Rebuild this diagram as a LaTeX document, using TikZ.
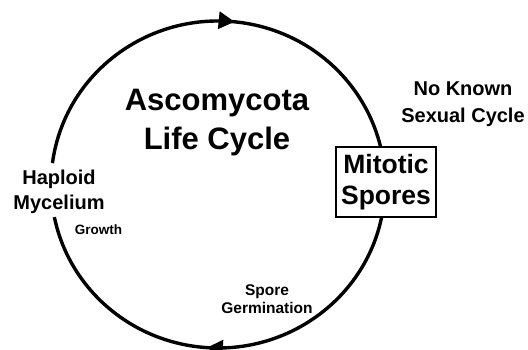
\documentclass[tikz,border=0pt]{standalone}
\usepackage{fontspec}
\setmainfont{Liberation Sans}
\usetikzlibrary{arrows.meta,decorations.markings,calc}
\begin{document}
\begin{tikzpicture}[x=1pt,y=1pt,
  lbl/.style={font=\bfseries, align=center, inner sep=0pt},
  cyc/.style={line width=3.4pt, postaction={decorate}, decoration={markings,
     mark=at position 0.259 with {\arrow{Triangle[length=16pt,width=17pt]}},
     mark=at position 0.781 with {\arrow{Triangle[length=16pt,width=17pt]}}}}]
\useasboundingbox (0,0) rectangle (528,350);
\coordinate (c) at (218,165.5);
\draw[cyc] ($(c)+(172.5:167 and 163.5)$) arc[start angle=172.5, end angle=-168.5, x radius=167, y radius=163.5];
\node[lbl, font=\fontsize{31}{39}\selectfont\bfseries] (title) at (217,227.5) {Ascomycota\\Life Cycle};
\node[lbl, font=\fontsize{20}{25}\selectfont\bfseries] (hap) at (59,158.5) {Haploid\\Mycelium};
\node[lbl, font=\fontsize{13.5}{16}\selectfont\bfseries] (grow) at (98.5,120) {Growth};
\node[lbl, font=\fontsize{15.5}{17.5}\selectfont\bfseries] (germ) at (267,51) {Spore\\Germination};
\node[lbl, font=\fontsize{20}{26.5}\selectfont\bfseries] (nosex) at (463,246) {No Known\\Sexual Cycle};
\node[draw, fill=white, line width=1.3pt, minimum width=100pt, minimum height=70pt, inner sep=0pt,
  align=center, font=\fontsize{26.5}{31}\selectfont\bfseries] (spores) at (386,168) {Mitotic\\Spores};
\end{tikzpicture}
\end{document}
